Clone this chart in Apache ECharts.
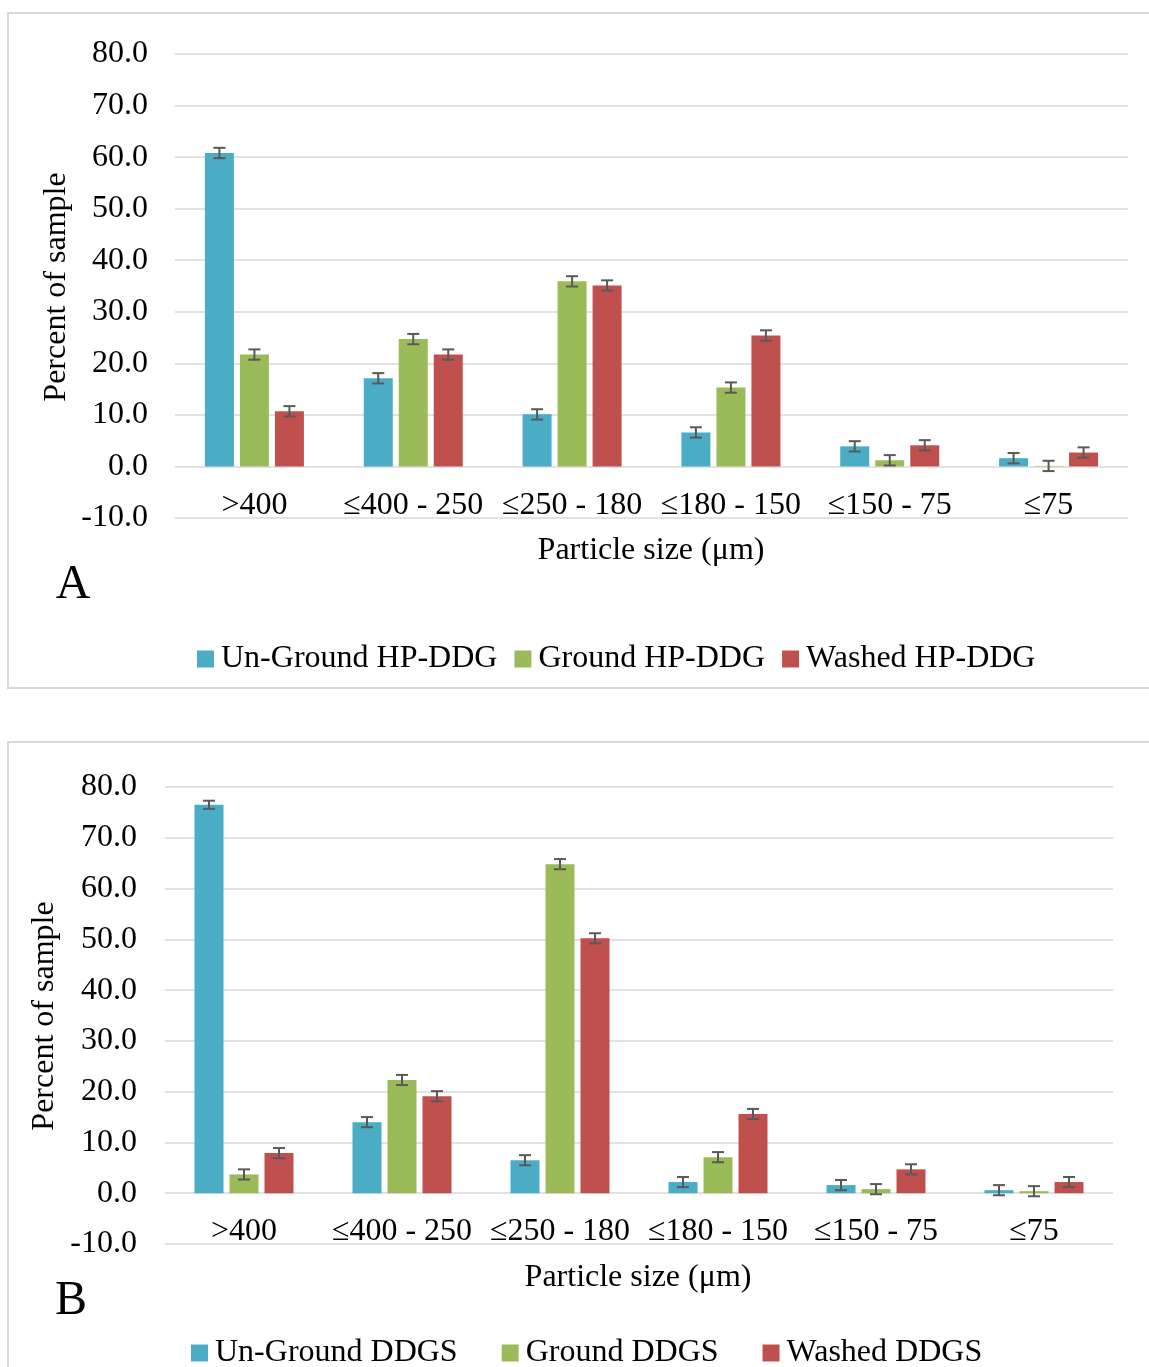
<!DOCTYPE html>
<html><head><meta charset="utf-8">
<script src="https://cdn.jsdelivr.net/npm/echarts@6/dist/echarts.min.js"></script>
<style>html,body{margin:0;padding:0;background:#fff;}#c{width:1149px;height:1367px;}</style>
</head><body><div id="c"></div>
<script>
const categories = ['>400', '≤400 - 250', '≤250 - 180', '≤180 - 150', '≤150 - 75', '≤75'];
const yTicks = [-10, 0, 10, 20, 30, 40, 50, 60, 70, 80];

const namesA = ['Un-Ground HP-DDG', 'Ground HP-DDG', 'Washed HP-DDG'];
const unGroundA = [60.8, 17.1, 10.1, 6.6, 3.9, 1.6];
const groundA   = [21.7, 24.7, 35.9, 15.3, 1.2, 0.1];
const washedA   = [10.7, 21.7, 35.1, 25.4, 4.1, 2.7];
const errA = [
  [1.0, 1.0, 1.0, 1.0, 1.0, 1.0],
  [1.0, 1.0, 1.0, 1.0, 1.0, 1.0],
  [1.0, 1.0, 1.0, 1.0, 1.0, 1.0]
];

const namesB = ['Un-Ground DDGS', 'Ground DDGS', 'Washed DDGS'];
const unGroundB = [76.5, 14.0, 6.5, 2.2, 1.6, 0.6];
const groundB   = [3.7, 22.3, 64.8, 7.1, 0.8, 0.4];
const washedB   = [7.9, 19.1, 50.2, 15.6, 4.7, 2.2];
const errB = [
  [0.8, 1.0, 1.0, 1.0, 1.0, 1.0],
  [1.0, 1.0, 1.0, 1.0, 1.0, 1.0],
  [1.0, 1.0, 1.0, 1.0, 1.0, 1.0]
];

const colors = ['#4BACC6', '#9BBB59', '#C0504D'];
const FONT = '"Liberation Serif", "Times New Roman", serif';
const FS = 32;
const BAR_W = 29, GAP = 6;

function barSeries(name, data, idx, gi) {
  return {
    type: 'bar', name: name, data: data, xAxisIndex: gi, yAxisIndex: gi,
    barWidth: BAR_W, barGap: (GAP / BAR_W * 100) + '%',
    itemStyle: { color: colors[idx] }, z: 2
  };
}
function errSeries(vals, errs, idx, gi) {
  const offset = (idx - 1) * (BAR_W + GAP);
  return {
    type: 'custom', name: 'err' + gi + '_' + idx, xAxisIndex: gi, yAxisIndex: gi, z: 5,
    data: vals.map((v, i) => [i, v, errs[i]]),
    renderItem: function (params, api) {
      const i = api.value(0), v = api.value(1), e = api.value(2);
      const hi = api.coord([i, v + e]);
      const lo = api.coord([i, v - e]);
      const x = hi[0] + offset;
      const cap = 6;
      const st = { stroke: '#595959', lineWidth: 2 };
      return { type: 'group', children: [
        { type: 'line', shape: { x1: x, y1: hi[1], x2: x, y2: lo[1] }, style: st },
        { type: 'line', shape: { x1: x - cap, y1: hi[1], x2: x + cap, y2: hi[1] }, style: st },
        { type: 'line', shape: { x1: x - cap, y1: lo[1], x2: x + cap, y2: lo[1] }, style: st }
      ]};
    }
  };
}
function yAxis(gi, margin) {
  return {
    type: 'value', gridIndex: gi, min: yTicks[0], max: yTicks[yTicks.length - 1], interval: 10,
    axisLine: { show: false }, axisTick: { show: false },
    axisLabel: { formatter: v => v.toFixed(1), fontFamily: FONT, fontSize: FS, color: '#000', margin: margin },
    splitLine: { lineStyle: { color: '#d9d9d9', width: 1.5 } }
  };
}
function xAxis(gi) {
  return {
    type: 'category', gridIndex: gi, data: categories,
    axisLine: { show: false },
    axisTick: { show: false },
    axisLabel: { fontFamily: FONT, fontSize: FS, color: '#000', inside: true, margin: -4, interval: 0 }
  };
}
function txt(text, x, y, size, rot) {
  return { type: 'text', x: x, y: y, rotation: rot || 0,
    style: { text: text, font: size + 'px ' + FONT, fill: '#000', textAlign: 'center', textVerticalAlign: 'middle' } };
}

const chart = echarts.init(document.getElementById('c'), null, { renderer: 'canvas' });
chart.setOption({
  animation: false,
  backgroundColor: '#fff',
  grid: [
    { left: 175, right: 21, top: 54, bottom: 1367 - 518 },
    { left: 165, right: 36, top: 787, bottom: 1367 - 1244 }
  ],
  xAxis: [xAxis(0), xAxis(1)],
  yAxis: [yAxis(0, 27), yAxis(1, 28)],
  legend: [
    { data: namesA, left: 192, top: 638, itemWidth: 17, itemHeight: 17, itemGap: 17,
      icon: 'rect', textStyle: { fontFamily: FONT, fontSize: FS, color: '#000', padding: [0, 0, 0, 2] } },
    { data: namesB, left: 186, top: 1332, itemWidth: 17, itemHeight: 17, itemGap: 44,
      icon: 'rect', textStyle: { fontFamily: FONT, fontSize: FS, color: '#000', padding: [0, 0, 0, 2] } }
  ],
  graphic: [
    { type: 'rect', shape: { x: 8, y: 13, width: 1160, height: 675 }, style: { fill: 'none', stroke: '#d9d9d9', lineWidth: 2 }, z: -1 },
    { type: 'rect', shape: { x: 8, y: 742, width: 1160, height: 660 }, style: { fill: 'none', stroke: '#d9d9d9', lineWidth: 2 }, z: -1 },
    txt('Percent of sample', 57, 287, FS, Math.PI / 2),
    txt('Particle size (μm)', 651, 551, FS),
    txt('A', 73, 585, 48),
    txt('Percent of sample', 45, 1016, FS, Math.PI / 2),
    txt('Particle size (μm)', 638, 1278, FS),
    txt('B', 71, 1301, 48)
  ],
  series: [
    barSeries(namesA[0], unGroundA, 0, 0),
    barSeries(namesA[1], groundA, 1, 0),
    barSeries(namesA[2], washedA, 2, 0),
    errSeries(unGroundA, errA[0], 0, 0),
    errSeries(groundA, errA[1], 1, 0),
    errSeries(washedA, errA[2], 2, 0),
    barSeries(namesB[0], unGroundB, 0, 1),
    barSeries(namesB[1], groundB, 1, 1),
    barSeries(namesB[2], washedB, 2, 1),
    errSeries(unGroundB, errB[0], 0, 1),
    errSeries(groundB, errB[1], 1, 1),
    errSeries(washedB, errB[2], 2, 1)
  ]
});
</script></body></html>
